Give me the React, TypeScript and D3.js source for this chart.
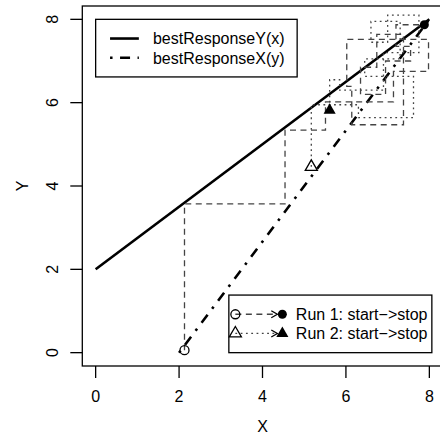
import React from 'react';
import * as d3 from 'd3';

const xTicks = [0, 2, 4, 6, 8];
const yTicks = [0, 2, 4, 6, 8];
const bestResponseYPts: [number, number][] = [[0, 2], [8, 8]];
const bestResponseXPts: [number, number][] = [[2, 0], [8, 8]];
const run1: [number, number][] = [
  [2.13, 0.06], [2.13, 3.57], [4.54, 3.57], [4.54, 5.34], [5.51, 5.34], [5.51, 6.02],
  [7.14, 6.02], [7.14, 6.75], [7.98, 6.75], [7.98, 7.52], [6.02, 7.52], [6.02, 6.39],
  [6.14, 6.39], [6.14, 5.47], [7.38, 5.47], [7.38, 7.64], [6.74, 7.64], [6.74, 6.85],
  [6.35, 6.85], [6.35, 6.2], [6.95, 6.2], [6.95, 7.0], [7.55, 7.0], [7.55, 7.35],
  [7.2, 7.35], [7.2, 7.87], [7.88, 7.87],
];
const run2: [number, number][] = [
  [5.17, 4.46], [5.17, 5.95], [6.3, 5.95], [6.3, 5.64], [7.62, 5.64], [7.62, 6.63],
  [6.45, 6.63], [6.45, 7.05], [7.3, 7.05], [7.3, 7.95], [6.6, 7.95], [6.6, 7.45],
  [7.0, 7.45], [7.0, 8.1], [7.75, 8.1], [7.75, 7.2], [6.9, 7.2], [6.9, 6.3],
  [5.85, 6.3], [5.85, 6.55], [5.61, 6.55], [5.61, 5.82],
];
const legendLineLabels = ['bestResponseY(x)', 'bestResponseX(y)'];
const legendRunLabels = ['Run 1: start\u2212>stop', 'Run 2: start\u2212>stop'];

const FONT = "'Liberation Sans', Arial, Helvetica, sans-serif";
const FS = 16;

function triPath(r: number) {
  const a = r * 1.5551, b = r * 1.3468, c = r * 0.7776;
  return `M0,${-a}L${b},${c}L${-b},${c}Z`;
}

export default function App() {
  const W = 440, H = 438;
  const x = d3.scaleLinear().domain([-0.32, 8.32]).range([82.3, 442.7]);
  const y = d3.scaleLinear().domain([-0.32, 8.32]).range([366, 6]);
  const line = d3.line<[number, number]>().x(d => x(d[0])).y(d => y(d[1]));
  const r = 4.5;

  const lg1 = { left: x(0), top: y(8), w: 201.5, h: 57.6 };
  const lg2 = { right: x(8) + 2.5, bottom: y(0), w: 203, h: 57.6 };
  const lg2left = lg2.right - lg2.w;
  const lg2top = lg2.bottom - lg2.h;

  const s1 = run1[0], e1 = run1[run1.length - 1];
  const s2 = run2[0], e2 = run2[run2.length - 1];

  const arrow = (x1: number, yy: number) => {
    const L = 7, ang = Math.PI / 6;
    return `M${x1 - L * Math.cos(ang)},${yy - L * Math.sin(ang)}L${x1},${yy}L${x1 - L * Math.cos(ang)},${yy + L * Math.sin(ang)}`;
  };

  const runColor = '#444';

  return (
    <svg width={W} height={H} style={{ position: 'absolute', left: 0, top: 0, background: '#fff' }} fontFamily={FONT}>
      <rect x={0} y={0} width={W} height={H} fill="#fff" />
      {/* best response lines */}
      <path d={line(bestResponseYPts) || ''} fill="none" stroke="#000" strokeWidth={2.6} />
      <path d={line(bestResponseXPts) || ''} fill="none" stroke="#000" strokeWidth={2.6} strokeDasharray="2.5,7.5,10,7.5" />
      {/* runs */}
      <path d={line(run1) || ''} fill="none" stroke={runColor} strokeWidth={1.3} strokeDasharray="6,4.5" />
      <path d={line(run2) || ''} fill="none" stroke={runColor} strokeWidth={1.3} strokeDasharray="1.8,3.5" />
      {/* start/stop markers */}
      <circle cx={x(s1[0])} cy={y(s1[1])} r={r} fill="none" stroke="#000" strokeWidth={1.3} />
      <circle cx={x(e1[0])} cy={y(e1[1])} r={r} fill="#000" />
      <path d={triPath(r)} transform={`translate(${x(s2[0])},${y(s2[1])})`} fill="none" stroke="#000" strokeWidth={1.3} />
      <path d={triPath(r)} transform={`translate(${x(e2[0])},${y(e2[1])})`} fill="#000" />

      {/* box */}
      <rect x={x(-0.32)} y={y(8.32)} width={x(8.32) - x(-0.32)} height={y(-0.32) - y(8.32)} fill="none" stroke="#000" strokeWidth={1.3} />
      {/* x axis */}
      {xTicks.map(t => (
        <g key={'x' + t}>
          <line x1={x(t)} x2={x(t)} y1={y(-0.32)} y2={y(-0.32) + 12} stroke="#000" strokeWidth={1.3} />
          <text x={x(t)} y={y(-0.32) + 36} fontSize={FS} textAnchor="middle">{t}</text>
        </g>
      ))}
      <text x={(x(-0.32) + x(8.32)) / 2} y={y(-0.32) + 66} fontSize={FS} textAnchor="middle">X</text>
      {/* y axis */}
      {yTicks.map(t => (
        <g key={'y' + t}>
          <line x1={x(-0.32) - 12} x2={x(-0.32)} y1={y(t)} y2={y(t)} stroke="#000" strokeWidth={1.3} />
          <text transform={`translate(${x(-0.32) - 24},${y(t)}) rotate(-90)`} fontSize={FS} textAnchor="middle">{t}</text>
        </g>
      ))}
      <text transform={`translate(${x(-0.32) - 54},${(y(-0.32) + y(8.32)) / 2}) rotate(-90)`} fontSize={FS} textAnchor="middle">Y</text>

      {/* legend 1 */}
      <rect x={lg1.left} y={lg1.top} width={lg1.w} height={lg1.h} fill="#fff" stroke="#000" strokeWidth={1.3} />
      {legendLineLabels.map((lab, i) => {
        const cy = lg1.top + 19.2 * (i + 1);
        return (
          <g key={lab}>
            <line x1={lg1.left + 14.4} x2={lg1.left + 43.2} y1={cy} y2={cy} stroke="#000" strokeWidth={2.6}
              strokeDasharray={i === 1 ? '2.5,7.5,10,7.5' : undefined} />
            <text x={lg1.left + 57.3} y={cy + 5.8} fontSize={FS}>{lab}</text>
          </g>
        );
      })}

      {/* legend 2 */}
      <rect x={lg2left} y={lg2top} width={lg2.w} height={lg2.h} fill="#fff" stroke="#000" strokeWidth={1.3} />
      {legendRunLabels.map((lab, i) => {
        const cy = lg2top + 19.2 * (i + 1);
        const xo = lg2left + 6.5, xf = lg2left + 53.5;
        return (
          <g key={lab}>
            <line x1={xo} x2={xf - 5} y1={cy} y2={cy} stroke={runColor} strokeWidth={1.3}
              strokeDasharray={i === 0 ? '6,4.5' : '1.8,3.5'} />
            <path d={arrow(xf - 5, cy)} fill="none" stroke="#000" strokeWidth={1.3} />
            {i === 0 ? (
              <>
                <circle cx={xo} cy={cy} r={r} fill="none" stroke="#000" strokeWidth={1.3} />
                <circle cx={xf} cy={cy} r={r} fill="#000" />
              </>
            ) : (
              <>
                <path d={triPath(r)} transform={`translate(${xo},${cy})`} fill="none" stroke="#000" strokeWidth={1.3} />
                <path d={triPath(r)} transform={`translate(${xf},${cy})`} fill="#000" />
              </>
            )}
            <text x={lg2left + 67} y={cy + 5.8} fontSize={FS}>{lab}</text>
          </g>
        );
      })}
    </svg>
  );
}
